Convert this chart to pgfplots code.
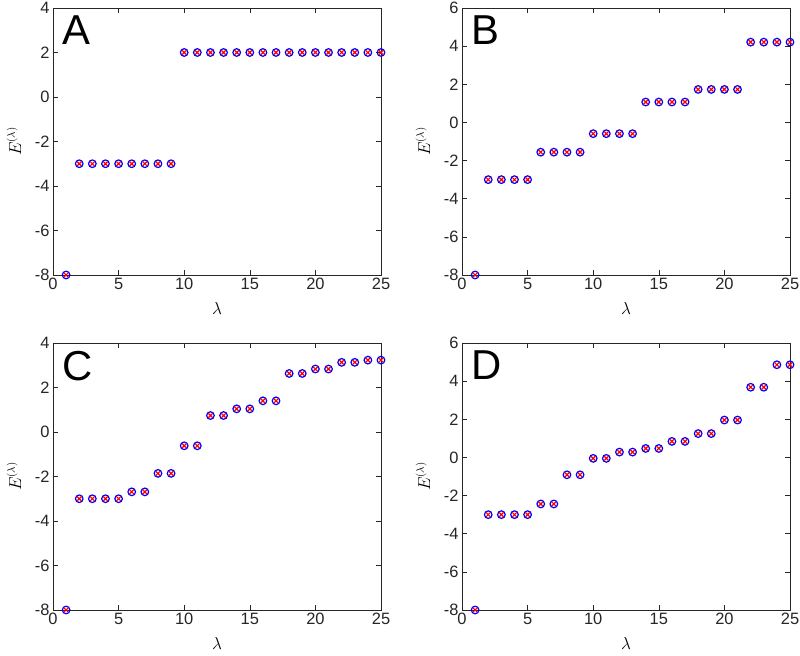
\documentclass[border=0pt]{standalone}
\usepackage{fontspec}
\setmainfont{Liberation Sans}
\usepackage{pgfplots}
\pgfplotsset{compat=1.18}
\definecolor{axgray}{HTML}{262626}
\pgfplotsset{
  panel/.style={
    scale only axis, width=328bp, height=267bp,
    xmin=0, xmax=25, xtick={0,5,...,25},
    tick align=inside, major tick length=5bp,
    axis line style={axgray, line width=0.6pt},
    tick style={axgray, line width=0.6pt},
    every tick label/.append style={font=\fontsize{16.5}{18}\selectfont, text=axgray},
    /pgf/number format/assume math mode=true,
    xlabel={$\lambda$}, ylabel={$E^{(\lambda)}$},
    label style={font=\fontsize{16}{18}\selectfont},
    xlabel style={yshift=-6bp},
    ylabel style={yshift=7bp},
    clip=false,
  },
  circ/.style={only marks, mark=o, mark size=3.8bp, blue, mark options={line width=1.2pt}},
  crs/.style={only marks, mark=x, mark size=3.2bp, red, mark options={line width=1.2pt}},
}
\newcommand{\panellabel}[1]{\node[anchor=north west, inner sep=0pt, font=\fontsize{42}{42}\selectfont] at (rel axis cs:0,1) [xshift=9bp, yshift=-8bp] {#1};}
\pgfplotstableread{
x y
1 -8
2 -3
3 -3
4 -3
5 -3
6 -3
7 -3
8 -3
9 -3
10 2
11 2
12 2
13 2
14 2
15 2
16 2
17 2
18 2
19 2
20 2
21 2
22 2
23 2
24 2
25 2
}\dataA
\pgfplotstableread{
x y
1 -8
2 -3
3 -3
4 -3
5 -3
6 -1.56
7 -1.56
8 -1.56
9 -1.56
10 -0.59
11 -0.59
12 -0.59
13 -0.59
14 1.07
15 1.07
16 1.07
17 1.07
18 1.73
19 1.73
20 1.73
21 1.73
22 4.21
23 4.21
24 4.21
25 4.21
}\dataB
\pgfplotstableread{
x y
1 -8
2 -3
3 -3
4 -3
5 -3
6 -2.69
7 -2.69
8 -1.86
9 -1.86
10 -0.62
11 -0.62
12 0.74
13 0.74
14 1.04
15 1.04
16 1.40
17 1.40
18 2.63
19 2.63
20 2.83
21 2.83
22 3.13
23 3.13
24 3.23
25 3.23
}\dataC
\pgfplotstableread{
x y
1 -8
2 -3
3 -3
4 -3
5 -3
6 -2.44
7 -2.44
8 -0.91
9 -0.91
10 -0.05
11 -0.05
12 0.28
13 0.28
14 0.47
15 0.47
16 0.84
17 0.84
18 1.25
19 1.25
20 1.96
21 1.96
22 3.68
23 3.68
24 4.86
25 4.86
}\dataD
\begin{document}
\begin{tikzpicture}[x=1bp,y=1bp]
\useasboundingbox (0,0) rectangle (800,656);
\begin{axis}[panel, at={(53bp,381bp)}, anchor=south west, ymin=-8, ymax=4, ytick={-8,-6,...,4}]
\addplot[circ] table {\dataA};
\addplot[crs] table {\dataA};
\panellabel{A}
\end{axis}
\begin{axis}[panel, at={(462bp,381bp)}, anchor=south west, ymin=-8, ymax=6, ytick={-8,-6,...,6}]
\addplot[circ] table {\dataB};
\addplot[crs] table {\dataB};
\panellabel{B}
\end{axis}
\begin{axis}[panel, at={(53bp,46bp)}, anchor=south west, ymin=-8, ymax=4, ytick={-8,-6,...,4}]
\addplot[circ] table {\dataC};
\addplot[crs] table {\dataC};
\panellabel{C}
\end{axis}
\begin{axis}[panel, at={(462bp,46bp)}, anchor=south west, ymin=-8, ymax=6, ytick={-8,-6,...,6}]
\addplot[circ] table {\dataD};
\addplot[crs] table {\dataD};
\panellabel{D}
\end{axis}
\end{tikzpicture}
\end{document}
